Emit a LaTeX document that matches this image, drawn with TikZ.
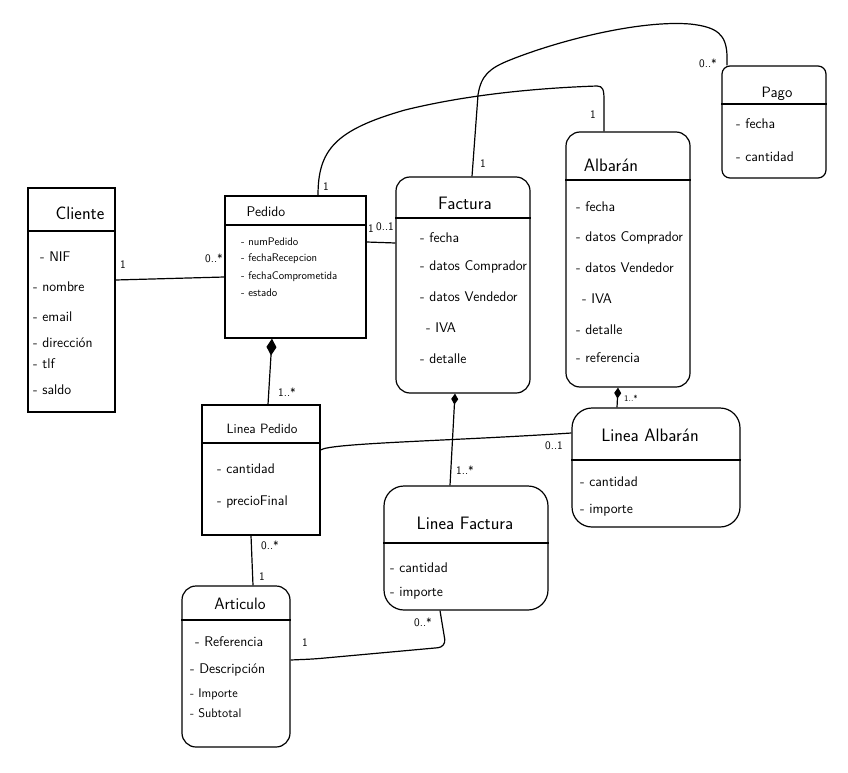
\documentclass[tikz,border=0pt]{standalone}
\usepackage{fontspec}
\usepackage{tikz}
\usetikzlibrary{arrows.meta,positioning,fit}
\tikzstyle{classbox} = [draw, line width=1.2pt, inner sep=0pt]
\tikzstyle{softbox} = [classbox, rounded corners=14pt]
\tikzstyle{classname} = [inner sep=0pt, font=\sffamily\fontsize{18}{20}\selectfont]
\tikzstyle{attr} = [anchor=west, inner sep=0pt, font=\sffamily\fontsize{14}{16}\selectfont]
\tikzstyle{smallattr} = [attr, font=\sffamily\fontsize{11}{12}\selectfont]
\tikzstyle{mult} = [inner sep=0pt, font=\sffamily\fontsize{11.5}{13}\selectfont]
\tikzstyle{link} = [line width=1.2pt]
\tikzstyle{compo} = [link, -{Diamond[length=17pt,width=10pt]}]
\tikzstyle{smallcompo} = [link, -{Diamond[length=11pt,width=7pt]}]
\begin{document}
\begin{tikzpicture}[x=1pt,y=-1pt]
    \useasboundingbox (0,0) rectangle (848,773);
    % classes
    \node[classbox, fit={(28,188) (115,412)}] (cliente) {};
    \node[classname] (clienteT) at (80,213) {Cliente};
    \draw[link] (cliente.west |- 0,231) -- (cliente.east |- 0,231);
    \node[attr] (clNif) at (40,257) {- NIF};
    \node[attr] (clNombre) at (33,287) {- nombre};
    \node[attr] (clEmail) at (33,317) {- email};
    \node[attr] (clDireccion) at (33,343) {- dirección};
    \node[attr] (clTlf) at (33,364) {- tlf};
    \node[attr] (clSaldo) at (33,390) {- saldo};

    \node[classbox, fit={(225,196) (366,338)}] (pedido) {};
    \node[classname, font=\sffamily\fontsize{14}{16}\selectfont] (pedidoT) at (266,212) {Pedido};
    \draw[link] (pedido.west |- 0,225) -- (pedido.east |- 0,225);
    \node[smallattr] (peNum) at (241,242) {- numPedido};
    \node[smallattr] (peRecep) at (241,259) {- fechaRecepcion};
    \node[smallattr] (peComp) at (241,277) {- fechaComprometida};
    \node[smallattr] (peEstado) at (241,293) {- estado};

    \node[softbox, fit={(396,177) (530,393)}] (factura) {};
    \node[classname] (facturaT) at (465,203) {Factura};
    \draw[link] (factura.west |- 0,218) -- (factura.east |- 0,218);
    \node[attr] (faFecha) at (420,238) {- fecha};
    \node[attr] (faComp) at (420,267) {- datos Comprador};
    \node[attr] (faVend) at (420,297) {- datos Vendedor};
    \node[attr] (faIva) at (426,328) {- IVA};
    \node[attr] (faDetalle) at (420,359) {- detalle};

    \node[softbox, fit={(566,132) (690,387)}] (albaran) {};
    \node[classname] (albaranT) at (611,165) {Albarán};
    \draw[link] (albaran.west |- 0,180) -- (albaran.east |- 0,180);
    \node[attr] (alFecha) at (576,207) {- fecha};
    \node[attr] (alComp) at (576,238) {- datos Comprador};
    \node[attr] (alVend) at (576,268) {- datos Vendedor};
    \node[attr] (alIva) at (582,299) {- IVA};
    \node[attr] (alDetalle) at (576,330) {- detalle};
    \node[attr] (alRef) at (576,358) {- referencia};

    \node[softbox, rounded corners=8pt, fit={(722,66) (826,178)}] (pago) {};
    \node[classname, font=\sffamily\fontsize{15}{17}\selectfont] (pagoT) at (777,94) {Pago};
    \draw[link] (pago.west |- 0,104) -- (pago.east |- 0,104);
    \node[attr] (paFecha) at (736,124) {- fecha};
    \node[attr] (paCant) at (736,157) {- cantidad};

    \node[classbox, fit={(202,405) (320,535)}] (lineapedido) {};
    \node[classname, font=\sffamily\fontsize{13.5}{15}\selectfont] (lineapedidoT) at (262,429) {Linea Pedido};
    \draw[link] (lineapedido.west |- 0,443) -- (lineapedido.east |- 0,443);
    \node[attr] (lpCant) at (217,469) {- cantidad};
    \node[attr] (lpPrecio) at (217,502) {- precioFinal};

    \node[softbox, rounded corners=20pt, fit={(572,408) (740,527)}] (lineaalbaran) {};
    \node[classname] (lineaalbaranT) at (650,435) {Linea Albarán};
    \draw[link] (lineaalbaran.west |- 0,460) -- (lineaalbaran.east |- 0,460);
    \node[attr] (laCant) at (580,482) {- cantidad};
    \node[attr] (laImporte) at (580,510) {- importe};

    \node[softbox, rounded corners=20pt, fit={(384,486) (548,610)}] (lineafactura) {};
    \node[classname] (lineafacturaT) at (465,523) {Linea Factura};
    \draw[link] (lineafactura.west |- 0,543) -- (lineafactura.east |- 0,543);
    \node[attr] (lfCant) at (390,568) {- cantidad};
    \node[attr] (lfImporte) at (390,593) {- importe};

    \node[softbox, fit={(182,586) (290,747)}] (articulo) {};
    \node[classname, font=\sffamily\fontsize{16.5}{18}\selectfont] (articuloT) at (240,604) {Articulo};
    \draw[link] (articulo.west |- 0,620) -- (articulo.east |- 0,620);
    \node[attr] (arRef) at (195,642) {- Referencia};
    \node[attr] (arDesc) at (190,670) {- Descripción};
    \node[attr, font=\sffamily\fontsize{12.5}{14}\selectfont] (arImporte) at (190,694) {- Importe};
    \node[attr, font=\sffamily\fontsize{12.5}{14}\selectfont] (arSubtotal) at (190,713) {- Subtotal};

    % associations
    \draw[link] (cliente.east |- 0,280) -- (pedido.west |- 0,277);
    \node[mult] (m1) at (123,265) {1};
    \node[mult] (m2) at (214,258) {0..*};

    \draw[link] (pedido.east |- 0,242) -- (factura.west |- 0,243);
    \node[mult] (m3) at (371,229) {1};
    \node[mult] (m4) at (385,227) {0..1};

    \draw[compo] (lineapedido.north -| 268,0) -- (pedido.south -| 272,0);
    \node[mult] (m5) at (287,392) {1..*};

    \draw[link] (pedido.north -| 318,0) .. controls (318,150) and (335,130) .. (405,110)
        .. controls (470,94) and (540,88) .. (597,86) .. controls (603,86) and (604,90) .. (604,100)
        -- (albaran.north -| 604,0);
    \node[mult] (m6) at (326,187) {1};
    \node[mult] (m7) at (593,115) {1};

    \draw[link] (factura.north -| 472,0) -- (478,95) .. controls (481,75) and (490,68) .. (510,60)
        .. controls (560,40) and (640,20) .. (690,24) .. controls (718,27) and (726,35) .. (727,55)
        -- (pago.north -| 727,0);
    \node[mult] (m8) at (483,164) {1};
    \node[mult] (m9) at (708,63) {0..*};

    \draw[link] (lineapedido.east |- 0,450) .. controls (330,443) and (450,441) .. (lineaalbaran.west |- 0,433);
    \node[mult] (m10) at (554,446) {0..1};

    \draw[smallcompo] (lineafactura.north -| 450,0) -- (factura.south -| 455,0);
    \node[mult] (m11) at (465,470) {1..*};

    \draw[smallcompo] (lineaalbaran.north -| 617,0) -- (albaran.south -| 618,0);
    \node[mult, font=\sffamily\fontsize{8.5}{9}\selectfont] (m12) at (631,398) {1..*};

    \draw[link] (lineapedido.south -| 251,0) -- (articulo.north -| 253,0);
    \node[mult] (m13) at (270,545) {0..*};
    \node[mult] (m14) at (262,577) {1};

    \draw[link, rounded corners=8pt] (articulo.east |- 0,660) -- (314,659) -- (446,647) -- (lineafactura.south -| 440,0);
    \node[mult] (m15) at (305,643) {1};
    \node[mult] (m16) at (423,622) {0..*};
\end{tikzpicture}
\end{document}
